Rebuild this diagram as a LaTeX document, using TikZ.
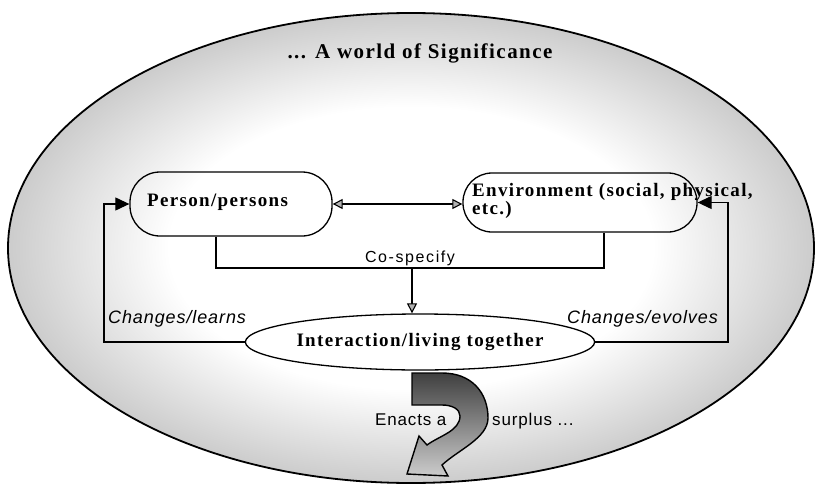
\documentclass[tikz,border=0pt]{standalone}
\usepackage{fontspec}
\setmainfont{Liberation Serif}
\newfontfamily\nodefont[LetterSpace=7]{Liberation Serif}
\newfontfamily\capfont[LetterSpace=10]{Liberation Sans}
\newfontfamily\chfont[LetterSpace=5]{Liberation Sans}
\usetikzlibrary{arrows.meta,shapes.geometric}
\pgfdeclareradialshading{worldshade}{\pgfpoint{0bp}{0bp}}{color(0bp)=(white); color(15bp)=(white); color(21bp)=(black!12); color(25bp)=(black!20); color(50bp)=(black!20)}
\begin{document}
\begin{tikzpicture}[x=1pt,y=-1pt,
  box/.style={draw, line width=1.3pt, rounded corners=30pt, inner sep=0pt},
  ntext/.style={font=\nodefont\bfseries\fontsize{19}{17}\selectfont, inner sep=0pt},
  conn/.style={draw, line width=1.1pt},
  smallhead/.style={-{Triangle[length=10pt,width=10pt,fill=black!30]}},
  dblhead/.style={{Triangle[length=10pt,width=10pt,fill=black!30]}-{Triangle[length=10pt,width=10pt,fill=black!30]}},
  bighead/.style={-{Triangle[length=14pt,width=13pt]}},
  captxt/.style={font=\capfont\fontsize{16}{18}\selectfont, inner sep=0pt},
  ittxt/.style={font=\chfont\itshape\fontsize{18}{20}\selectfont, inner sep=0pt},
  uptxt/.style={font=\chfont\fontsize{17}{20}\selectfont, inner sep=0pt}
]
\useasboundingbox (0,0) rectangle (816,487);
% world of significance
\path[shade, shading=worldshade, draw, line width=1.8pt] (411,248) ellipse [x radius=403, y radius=235];
\node[font=\nodefont\bfseries\fontsize{21}{24}\selectfont, inner sep=0pt] (title) at (420,53) {... A world of Significance};
% boxes
\node[box, minimum width=202pt, minimum height=64pt] (person) at (231,204) {};
\node[ntext, anchor=base west] (ptxt) at (147,206) {Person/persons};
\node[box, minimum width=234pt, minimum height=59pt, rounded corners=29pt] (env) at (580,202.5) {};
\node[ntext, anchor=north west, align=left] (etxt) at (472,183) {Environment (social, physical,\\etc.)};
\node[draw, ellipse, line width=1.3pt, fill=white, minimum width=314pt, minimum height=56pt, inner sep=0pt,
      font=\nodefont\bfseries\fontsize{19}{20}\selectfont] (inter) at (420,342) {Interaction/living together};
% connectors
\coordinate (cs) at (412,268);
\coordinate (lp) at (104,0);
\coordinate (rp) at (728,0);
\draw[conn, dblhead] (person.east) -- (person.east -| env.west);
\draw[conn] ([xshift=-15pt]person.south) |- (cs) -| ([xshift=24pt]env.south);
\draw[conn, smallhead] (cs) -- (cs |- inter.north);
\draw[conn, bighead] (inter.west) -- (inter.west -| lp) |- (person.west);
\draw[conn, bighead] (inter.east) -- (inter.east -| rp) |- (env.east);
% labels
\node[captxt, anchor=base] (cospec) at (410,262) {Co-specify};
\node[ittxt, anchor=base west] (cl) at (108,323) {Changes/learns};
\node[ittxt, anchor=base east] (ce) at (718,323) {Changes/evolves};
\node[uptxt, anchor=base west] (enacts) at (375,425) {Enacts a};
\node[uptxt, anchor=base west] (surplus) at (492,425) {surplus ...};
% curved arrow
\path[draw, line width=1.4pt, top color=black!75, bottom color=black!20]
  (412,373) -- (442,373) .. controls (472,373) and (488,393) .. (488,418)
  .. controls (488,438) and (458,450) .. (442,465) -- (448,476) -- (407,474) -- (419,436) -- (427,445)
  .. controls (439,436) and (460,431) .. (460,416)
  .. controls (460,409) and (452,405) .. (442,405) -- (412,405) -- cycle;
\end{tikzpicture}
\end{document}
